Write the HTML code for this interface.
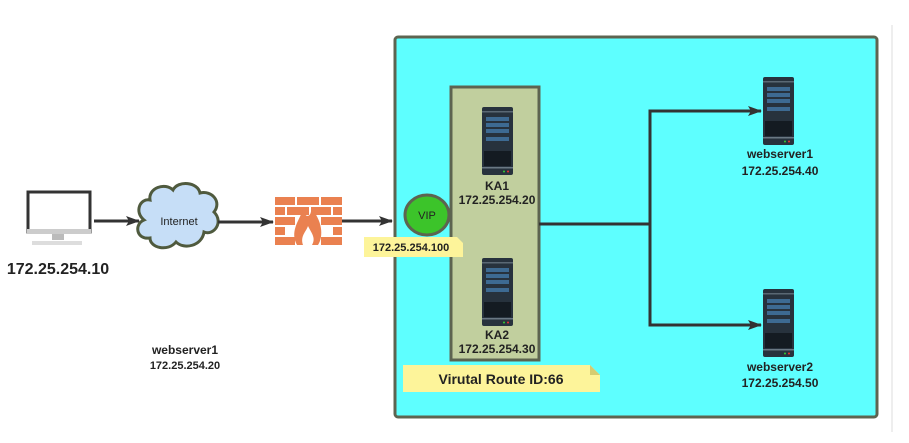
<!DOCTYPE html>
<html><head><meta charset="utf-8"><style>
html,body{margin:0;padding:0;background:#fff;width:909px;height:443px;overflow:hidden}
svg{display:block}
text{font-family:"Liberation Sans",sans-serif;font-weight:bold;fill:#222}
</style></head><body>
<svg width="909" height="443" viewBox="0 0 909 443" xmlns="http://www.w3.org/2000/svg">
<defs>
<g id="srv">
<rect x="0" y="0" width="31" height="68" rx="2" fill="#27323d"/>
<rect x="0" y="4" width="31" height="1.5" fill="#5a6874"/>
<rect x="4" y="10" width="23" height="4" fill="#3d6a92"/>
<rect x="4" y="16" width="23" height="4" fill="#3d6a92"/>
<rect x="4" y="22" width="23" height="4" fill="#3d6a92"/>
<rect x="4" y="30" width="23" height="4" fill="#3d6a92"/>
<rect x="2" y="44" width="27" height="15" fill="#141b22"/>
<rect x="0" y="60" width="31" height="1.5" fill="#6a7884"/>
<circle cx="22" cy="64.5" r="1" fill="#3c3"/>
<circle cx="26" cy="64.5" r="1" fill="#e33"/>
</g>
<marker id="ar" markerWidth="14" markerHeight="12" refX="13" refY="6" orient="auto" markerUnits="userSpaceOnUse"><path d="M0,1 L14,6 L0,11 L3,6 Z" fill="#333"/></marker>
</defs>
<line x1="892" y1="25" x2="892" y2="432" stroke="#ddd" stroke-width="1"/>
<rect x="395" y="37" width="482" height="380" rx="3" fill="#5effff" stroke="#5d6450" stroke-width="3"/>
<rect x="451" y="87" width="88" height="273" fill="#c1cf9e" stroke="#5d6450" stroke-width="3"/>
<use href="#srv" x="482" y="107"/>
<text x="497" y="190" font-size="12" text-anchor="middle">KA1</text>
<text x="497" y="204" font-size="12" text-anchor="middle">172.25.254.20</text>
<use href="#srv" x="482" y="258"/>
<text x="497" y="339" font-size="12" text-anchor="middle">KA2</text>
<text x="497" y="353" font-size="12" text-anchor="middle">172.25.254.30</text>
<ellipse cx="427" cy="215" rx="22" ry="20" fill="#3cc42a" stroke="#5d6450" stroke-width="3"/>
<text x="427" y="219" font-size="11" text-anchor="middle" style="font-weight:normal" fill="#333">VIP</text>
<path d="M364,237 H457 L463,243 V257 H364 Z" fill="#fdf49a"/>
<text x="411" y="251" font-size="11" text-anchor="middle">172.25.254.100</text>
<path d="M403,365 H590 L600,375 V392 H403 Z" fill="#fdf49a"/>
<path d="M590,365 L600,375 H590 Z" fill="#d6cc70"/>
<text x="501" y="384" font-size="14" text-anchor="middle">Virutal Route ID:66</text>
<path d="M539,224 H650 V111 H761" fill="none" stroke="#333" stroke-width="3" marker-end="url(#ar)"/>
<path d="M650,224 V325 H761" fill="none" stroke="#333" stroke-width="3" marker-end="url(#ar)"/>
<use href="#srv" x="763" y="77"/>
<text x="780" y="158" font-size="12" text-anchor="middle">webserver1</text>
<text x="780" y="175" font-size="12" text-anchor="middle">172.25.254.40</text>
<use href="#srv" x="763" y="289"/>
<text x="780" y="371" font-size="12" text-anchor="middle">webserver2</text>
<text x="780" y="387" font-size="12" text-anchor="middle">172.25.254.50</text>
<rect x="28" y="192" width="62" height="40" fill="#fff" stroke="#333" stroke-width="3"/>
<rect x="27" y="229" width="64" height="5" fill="#ccc"/>
<rect x="52" y="234" width="12" height="6" fill="#bbb"/>
<rect x="32" y="241" width="50" height="4" fill="#ddd"/>
<text x="58" y="274" font-size="16" text-anchor="middle">172.25.254.10</text>
<line x1="94" y1="221" x2="139" y2="221" stroke="#333" stroke-width="3" marker-end="url(#ar)"/>
<path d="M150,200 C148,188 165,182 173,190 C178,180 198,182 200,193 C212,190 222,202 214,212 C224,222 214,236 204,232 C202,246 184,250 176,242 C168,252 150,248 150,238 C136,240 134,224 144,220 C134,212 140,198 150,200 Z" fill="#c6def7" stroke="#4f5a3e" stroke-width="3"/>
<text x="179" y="225" font-size="11" text-anchor="middle" style="font-weight:normal" fill="#445">Internet</text>
<line x1="218" y1="222" x2="273" y2="222" stroke="#333" stroke-width="3" marker-end="url(#ar)"/>
<g fill="#ea8150">
<rect x="275" y="197" width="20" height="8"/><rect x="297" y="197" width="22" height="8"/><rect x="321" y="197" width="21" height="8"/>
<rect x="275" y="207" width="10" height="8"/><rect x="287" y="207" width="22" height="8"/><rect x="311" y="207" width="20" height="8"/><rect x="333" y="207" width="9" height="8"/>
<rect x="275" y="217" width="20" height="8"/><rect x="321" y="217" width="21" height="8"/>
<rect x="275" y="227" width="10" height="8"/><rect x="333" y="227" width="9" height="8"/>
<rect x="275" y="237" width="20" height="8"/><rect x="321" y="237" width="21" height="8"/>
<path d="M297,245 C290,232 298,222 303,210 C306,220 312,216 311,208 C322,220 324,236 318,245 Z"/>
</g>
<path d="M303,245 C300,236 306,232 308,226 C312,234 316,238 312,245 Z" fill="#fff"/>
<line x1="342" y1="221" x2="392" y2="221" stroke="#333" stroke-width="3" marker-end="url(#ar)"/>
<text x="185" y="354" font-size="12" text-anchor="middle">webserver1</text>
<text x="185" y="369" font-size="11" text-anchor="middle">172.25.254.20</text>
</svg>
</body></html>
